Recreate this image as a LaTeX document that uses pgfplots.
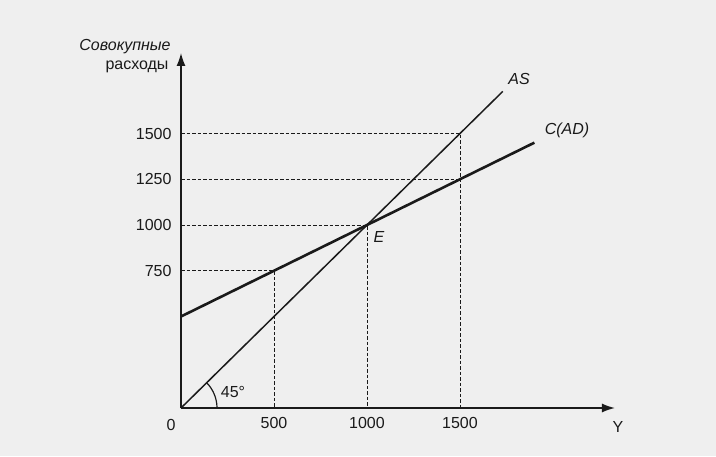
\documentclass[border=0pt]{standalone}
\usepackage{fontspec}
\setmainfont{Liberation Sans}
\usepackage{pgfplots}
\pgfplotsset{compat=1.18}
\usetikzlibrary{arrows.meta}
\definecolor{ink}{HTML}{1A1A1A}
\definecolor{paper}{HTML}{EFEFEF}
\begin{document}
\begin{tikzpicture}[font=\fontsize{16}{19}\selectfont, text=ink]
\fill[paper] (0,0) rectangle (716pt,456pt);
\useasboundingbox (0,0) rectangle (716pt,456pt);
\begin{axis}[
  at={(181pt,48pt)}, anchor=origin,
  x=0.186pt, y=0.183pt,
  xmin=0, xmax=2333, ymin=0, ymax=1940,
  axis lines=left,
  axis line style={line width=1.4pt, ink, -{Latex[length=13pt,width=9pt]}},
  clip=false,
  xtick={500,1000,1500}, ytick={750,1000,1250,1500},
  major tick length=0pt,
  /pgf/number format/assume math mode=true,
  /pgf/number format/1000 sep={},
  tick label style={font=\fontsize{16}{19}\selectfont, text=ink},
  xticklabel style={yshift=-6pt},
  yticklabel style={xshift=-6pt},
]
% dashed guides
\addplot[ink, line width=1pt, dash pattern=on 3.5pt off 2pt] coordinates {(0,1500) (1500,1500) (1500,0)};
\addplot[ink, line width=1pt, dash pattern=on 3.5pt off 2pt] coordinates {(0,1250) (1500,1250)};
\addplot[ink, line width=1pt, dash pattern=on 3.5pt off 2pt] coordinates {(0,1000) (1000,1000) (1000,0)};
\addplot[ink, line width=1pt, dash pattern=on 3.5pt off 2pt] coordinates {(0,750) (500,750) (500,0)};
% AS (45 degree line)
\addplot[ink, line width=1.5pt] coordinates {(0,0) (1730,1730)};
% C(AD)
\addplot[ink, line width=2.6pt] coordinates {(0,500) (1900,1450)};
\end{axis}
% 45 degree arc
\draw[ink, line width=1.2pt] (217pt,48pt) arc[start angle=0, end angle=45, radius=36pt];
\node at (233pt,64pt) {45°};
\node at (125pt,409pt) {\itshape Совокупные};
\node at (137pt,389pt) {расходы};
\node at (519pt,377pt) {\itshape AS};
\node at (567pt,326pt) {\itshape C(AD)};
\node at (379pt,219pt) {\itshape E};
\node at (618pt,29pt) {Y};
\node at (171pt,31pt) {0};
\end{tikzpicture}
\end{document}
